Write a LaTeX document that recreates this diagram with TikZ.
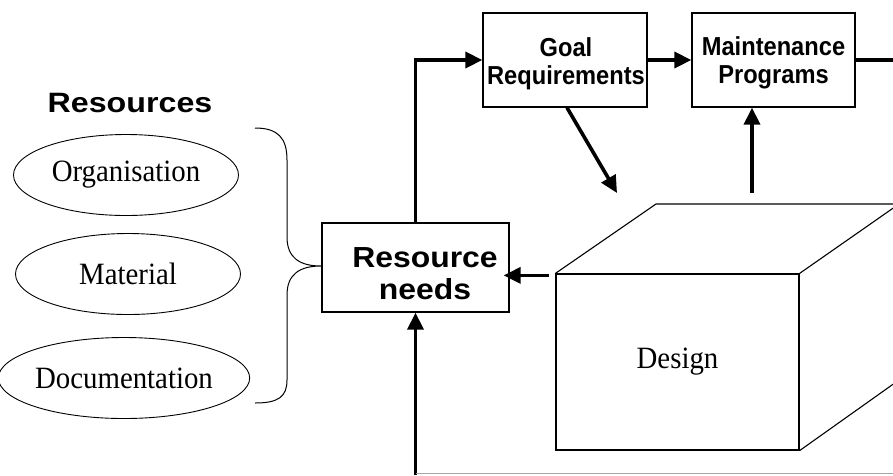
\documentclass[tikz,border=0pt]{standalone}
\usepackage{fontspec}
\setmainfont{Liberation Serif}
\newfontfamily\sansfam{Liberation Sans}[FakeStretch=1.1]
\newfontfamily\sanscond{Liberation Sans}[FakeStretch=0.91]
\newfontfamily\seriffam{Liberation Serif}[FakeStretch=0.93]
\usetikzlibrary{arrows.meta,shapes.geometric}
\begin{document}
\begin{tikzpicture}[x=1pt,y=-1pt,
  box/.style={draw, line width=1.3pt, inner sep=0pt},
  ell/.style={ellipse, draw, line width=0.9pt, minimum width=225pt, minimum height=81pt, inner sep=0pt, font=\seriffam\fontsize{31}{34}\selectfont},
  flow/.style={line width=3.6pt, -{Triangle[length=17pt,width=16pt]}},
  thick line/.style={line width=3.6pt},
  edge3d/.style={line width=1.1pt},
  smalltxt/.style={font=\sanscond\bfseries\fontsize{26}{28}\selectfont, align=center, inner sep=0pt},
  bigtxt/.style={font=\sansfam\bfseries\fontsize{29}{32}\selectfont, align=center, inner sep=0pt}
]
\useasboundingbox (0,0) rectangle (893,475);

% heading and resources
\node[bigtxt, font=\sansfam\bfseries\fontsize{28}{32}\selectfont, FakeStretch/.style={}] (restitle) at (130,103) {\addfontfeature{FakeStretch=1.15}Resources};
\node[ell] (org) at (126,175) {Organisation};
\node[ell] (mat) at (128,274) {Material};
\node[ell] (doc) at (124,378) {Documentation};

% boxes
\node[box, minimum width=164pt, minimum height=94pt] (goal) at (565,60) {};
\node[smalltxt] (goalt) at (566,64) {Goal\\Requirements};
\node[box, minimum width=163pt, minimum height=94pt] (maint) at (773.5,60) {};
\node[smalltxt] (maintt) at (773.5,63) {Maintenance\\Programs};
\node[box, minimum width=187pt, minimum height=89pt] (rn) at (415.5,267.5) {};
\node[bigtxt] (rnt) at (425,274) {Resource\\needs};

% cube
\node[draw, line width=1.2pt, minimum width=243pt, minimum height=176pt, inner sep=0pt,
      font=\seriffam\fontsize{31}{34}\selectfont] (design) at (677.5,362) {Design};
\coordinate (btl) at (656,204);
\coordinate (btr) at (899,204);
\coordinate (bbr) at (899,380);
\draw[edge3d] (design.north west) -- (btl) -- (btr) -- (bbr) -- (design.south east);
\draw[edge3d] (design.north east) -- (btr);

% brace
\coordinate (bt) at (255,128);
\coordinate (bb) at (255,403);
\coordinate (btip) at (321,266);
\draw[line width=1pt] (bt) .. controls (278,128) and (287,138) .. (287,160) -- (287,237)
  .. controls (287,258) and (300,266) .. (btip)
  .. controls (300,266) and (287,274) .. (287,295) -- (287,380)
  .. controls (287,397) and (278,403) .. (bb);

% connectors
\coordinate (outr) at (900,60);
\coordinate (dg) at (617,193);
\coordinate (up) at (752,193);
\coordinate (bl) at (415.5,475);
\coordinate (br) at (900,473);
\draw[flow] (rn.north) |- (goal.west);
\draw[flow] (goal.east) -- (maint.west);
\draw[thick line] (maint.east) -- (outr);
\draw[flow] ([xshift=2pt]goal.south) -- (dg);
\draw[flow] (up) -- (up |- maint.south);
\draw[flow] ([xshift=-6pt,yshift=-2pt]design.north west) -- ([xshift=-6pt,yshift=-2pt]design.north west -| rn.east);
\draw[flow] (bl) -- (rn.south);
\draw[gray!70, line width=1pt] (bl |- br) -- (br);
\end{tikzpicture}
\end{document}
